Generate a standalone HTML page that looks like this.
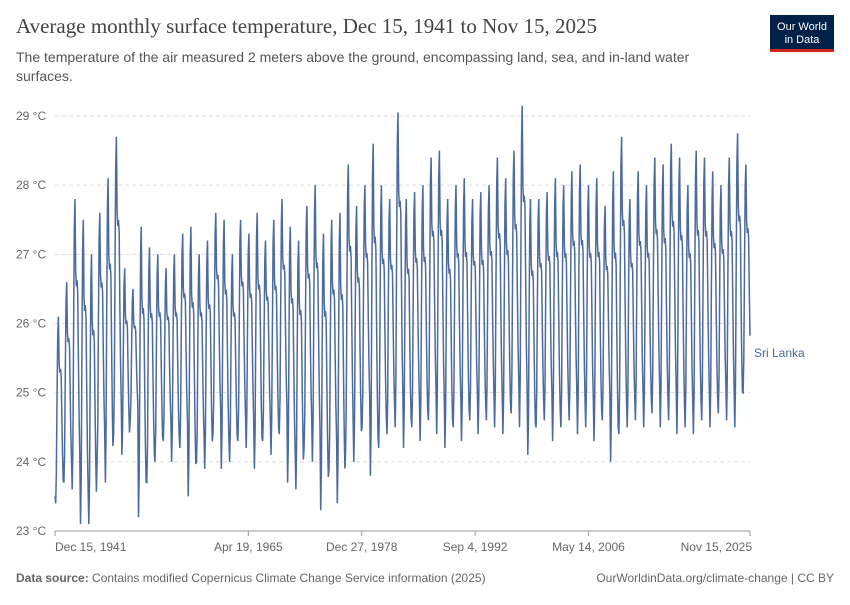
<!DOCTYPE html>
<html><head><meta charset="utf-8"><style>
body{margin:0;background:#fff;font-family:"Liberation Sans",sans-serif;}
svg text{font-family:"Liberation Sans",sans-serif;}
</style></head><body>
<svg width="850" height="600" id="c">
<text x="16" y="33" font-family="Liberation Serif" font-size="21" fill="#444" style="font-family:'Liberation Serif',serif">Average monthly surface temperature, Dec 15, 1941 to Nov 15, 2025</text>
<text x="16" y="62" font-size="14" fill="#555">The temperature of the air measured 2 meters above the ground, encompassing land, sea, and in-land water</text>
<text x="16" y="81" font-size="14" fill="#555">surfaces.</text>
<g><rect x="770" y="15" width="64" height="36" fill="#002147"/><rect x="770" y="49" width="64" height="3" fill="#ce261e"/>
<text x="802" y="30" font-size="11" fill="#fff" text-anchor="middle">Our World</text><text x="802" y="43" font-size="11" fill="#fff" text-anchor="middle">in Data</text></g>
<g id="grid"></g><g id="xa"></g>
<path id="line" fill="none" stroke="#4c6a9c" stroke-width="1.5"/>
<text x="754" y="357" font-size="12" fill="#4c6a9c">Sri Lanka</text>
<text x="16" y="582" font-size="12" fill="#666"><tspan font-weight="bold">Data source:</tspan> Contains modified Copernicus Climate Change Service information (2025)</text>
<text x="834" y="582" font-size="12" fill="#666" text-anchor="end">OurWorldinData.org/climate-change | CC BY</text>
</svg>
<script>
const yTicks=[23,24,25,26,27,28,29];
const xTickVals=[1941.96,1965.3,1978.99,1992.68,2006.37,2025.87];
const xTickLabels=["Dec 15, 1941","Apr 19, 1965","Dec 27, 1978","Sep 4, 1992","May 14, 2006","Nov 15, 2025"];
const startValue=23.5;
const shape=[0,0.15,0.55,0.9,1.0,0.75,0.7,0.72,0.68,0.45,0.25,0.12];
const peaks=[26.1,26.6,27.8,27.5,27.0,27.6,28.1,28.7,26.8,26.5,27.4,27.1,27.0,26.8,27.0,27.3,27.4,27.0,27.2,27.6,27.5,27.0,27.5,27.3,27.6,27.2,27.5,27.8,27.4,27.2,27.7,28.0,27.3,27.5,27.6,28.3,27.7,28.0,28.6,28.0,27.8,29.05,27.8,27.9,28.0,28.4,28.5,27.8,28.0,28.1,27.8,27.9,28.0,28.4,28.1,28.5,29.15,27.8,27.8,27.9,28.1,28.0,28.2,28.3,28.0,28.1,27.7,28.2,28.7,27.8,28.2,28.0,28.4,28.3,28.6,28.4,28.0,28.5,28.4,28.2,28.0,28.4,28.75,28.3];
const troughs=[23.4,23.7,23.6,23.1,23.1,24.0,23.7,24.4,24.1,24.6,23.2,23.7,24.0,24.3,24.0,24.2,23.5,24.0,23.9,24.4,23.9,24.0,24.3,24.2,23.9,24.3,24.1,24.4,23.7,23.6,24.2,24.0,23.3,23.9,23.4,24.1,24.0,24.5,23.8,24.2,24.4,24.5,24.2,24.5,24.3,24.6,24.4,24.2,24.5,24.3,24.6,24.4,24.6,24.5,24.4,24.7,24.5,24.1,24.5,24.6,24.3,24.5,24.6,24.4,24.5,24.3,24.6,24.0,24.4,24.5,24.6,24.5,24.7,24.5,24.6,24.4,24.5,24.4,24.6,24.5,24.7,24.6,24.5,25.0];
const x0=55,x1=750,t0=1941.96,t1=2025.87,yTop=116,yBot=531;
const X=t=>x0+(t-t0)/(t1-t0)*(x1-x0);
const Y=v=>yBot-(v-23)/(29-23)*(yBot-yTop);
const ns="http://www.w3.org/2000/svg";
const g=document.getElementById('grid'),xa=document.getElementById('xa');
yTicks.forEach(v=>{
 const l=document.createElementNS(ns,'line');
 
 
 l.setAttribute('x1',55);l.setAttribute('x2',750);l.setAttribute('y1',Y(v));l.setAttribute('y2',Y(v));
 l.setAttribute('stroke','#ddd');l.setAttribute('stroke-dasharray','4,3');g.appendChild(l);
 const t=document.createElementNS(ns,'text');
 
 
 t.setAttribute('x',16);t.setAttribute('y',Y(v)+4);t.setAttribute('font-size','12');t.setAttribute('fill','#666');
 t.textContent=v+' °C';g.appendChild(t);
});
const ax=document.createElementNS(ns,'line');


ax.setAttribute('x1',55);ax.setAttribute('x2',750);ax.setAttribute('y1',531);ax.setAttribute('y2',531);ax.setAttribute('stroke','#999');xa.appendChild(ax);
xTickVals.forEach((v,i)=>{
 const tk=document.createElementNS(ns,'line');
 
 
 tk.setAttribute('x1',X(v));tk.setAttribute('x2',X(v));tk.setAttribute('y1',531);tk.setAttribute('y2',536);tk.setAttribute('stroke','#999');xa.appendChild(tk);
 const t=document.createElementNS(ns,'text');
 
 
 let anchor='middle',xx=X(v);
 if(i==0){anchor='start';xx=55;} if(i==xTickVals.length-1){anchor='end';xx=752;}
 t.setAttribute('x',xx);t.setAttribute('y',551);t.setAttribute('font-size','12');t.setAttribute('fill','#666');t.setAttribute('text-anchor',anchor);
 t.textContent=xTickLabels[i];xa.appendChild(t);
});
let d='M'+X(t0).toFixed(1)+','+Y(startValue).toFixed(1);
for(let y=0;y<peaks.length;y++){for(let m=0;m<12;m++){
 const t=1942+y+(m+0.47)/12; if(t>t1+0.01)break;
 const v=troughs[y]+(peaks[y]-troughs[y])*shape[m];
 d+='L'+X(t).toFixed(1)+','+Y(v).toFixed(1);
}}
document.getElementById('line').setAttribute('d',d);
</script>
</body></html>
